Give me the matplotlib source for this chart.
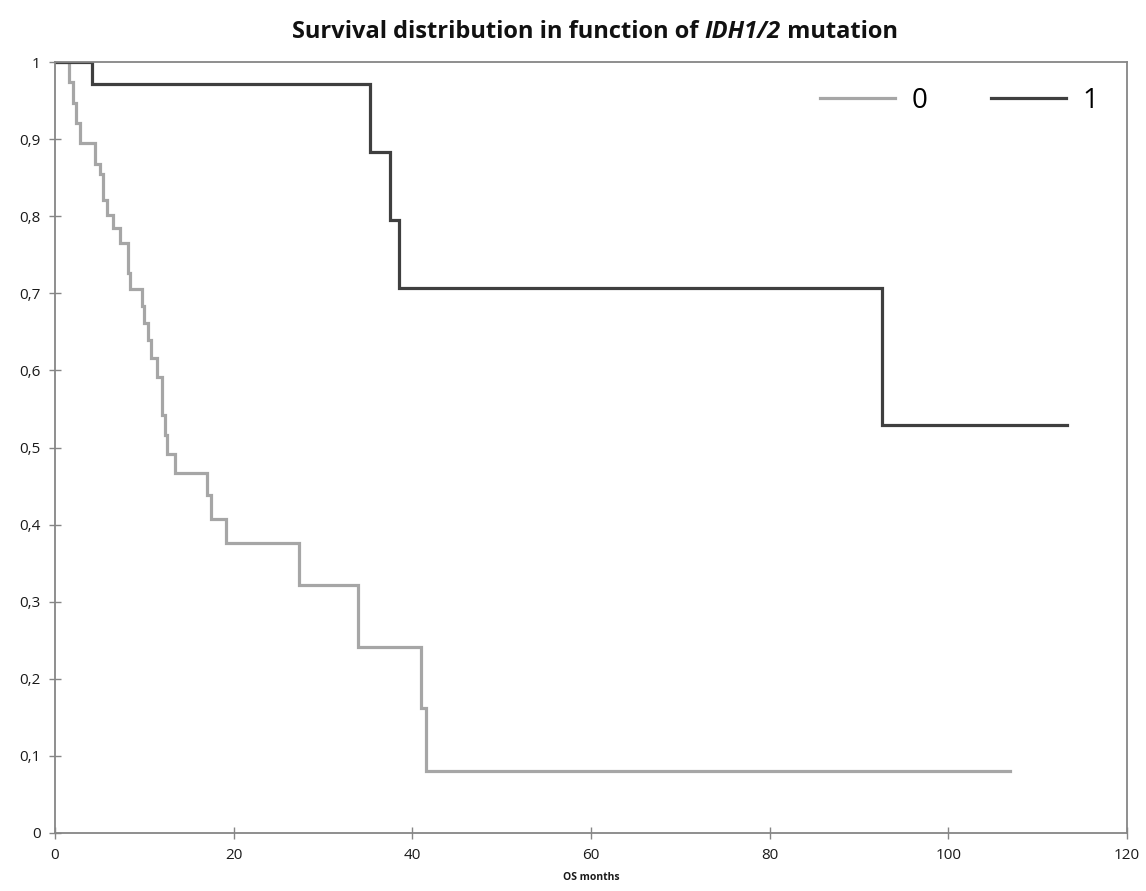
import matplotlib
matplotlib.use("Agg")
import matplotlib.pyplot as plt

# ---- data ----
times0 = [0, 1.6, 2.0, 2.4, 2.8, 4.5, 5.0, 5.4, 5.8, 6.5, 7.3, 8.2, 8.4, 9.7, 9.96,
          10.45, 10.75, 11.45, 12.0, 12.3, 12.5, 13.4, 17.0, 17.5, 19.1, 27.35,
          33.95, 40.97, 41.5, 106.9]
surv0 = [1.0, 0.974, 0.947, 0.921, 0.895, 0.868, 0.855, 0.821, 0.801, 0.785, 0.765,
         0.726, 0.705, 0.683, 0.662, 0.639, 0.616, 0.592, 0.542, 0.516, 0.492, 0.467,
         0.438, 0.407, 0.376, 0.322, 0.241, 0.162, 0.080, 0.080]
times1 = [0, 4.1, 35.3, 37.5, 38.5, 92.6, 113.3]
surv1 = [1.0, 0.971, 0.883, 0.795, 0.707, 0.529, 0.529]
series_labels = ["0", "1"]
xticks = [0, 20, 40, 60, 80, 100, 120]
yticks = [0, 0.1, 0.2, 0.3, 0.4, 0.5, 0.6, 0.7, 0.8, 0.9, 1.0]
ytick_labels = ["0", "0,1", "0,2", "0,3", "0,4", "0,5", "0,6", "0,7", "0,8", "0,9", "1"]
title_parts = ["Survival distribution in function of ", "IDH1/2", " mutation"]
xlabel = "OS months"

plt.rcParams['font.family'] = ['Open Sans', 'DejaVu Sans']

fig = plt.figure(figsize=(11.46, 8.91), dpi=100)
ax = fig.add_axes([55/1146, 1-833/891, (1127-55)/1146, (833-62)/891])

ax.plot(times0, surv0, drawstyle='steps-post', color='#a6a6a6', lw=2.3,
        label=series_labels[0], solid_joinstyle='miter')
ax.plot(times1, surv1, drawstyle='steps-post', color='#3f3f3f', lw=2.3,
        label=series_labels[1], solid_joinstyle='miter')

ax.set_xlim(0, 120)
ax.set_ylim(0, 1)
ax.set_xticks(xticks)
ax.set_xticklabels([str(v) for v in xticks])
ax.set_yticks(yticks)
ax.set_yticklabels(ytick_labels)
for s in ax.spines.values():
    s.set_color('#868686')
    s.set_linewidth(1.3)
ax.tick_params(axis='both', direction='inout', length=9, width=1.0,
               color='#868686', labelsize=11, labelcolor='#1a1a1a')
ax.tick_params(axis='x', pad=6)
ax.tick_params(axis='y', pad=6)

ax.set_xlabel(xlabel, fontsize=7.5, fontweight='bold', labelpad=7, color='#1a1a1a')

leg = ax.legend(loc='upper right', bbox_to_anchor=(1127/1146 - 0.003, 1-62/891),
                bbox_transform=fig.transFigure, ncol=2, frameon=False,
                fontsize=20, handlelength=2.7, handletextpad=0.6,
                columnspacing=2.3)

# title composed of pieces (italic gene name)
fig.canvas.draw()
renderer = fig.canvas.get_renderer()
styles = ['normal', 'italic', 'normal']
texts = []
for part, st in zip(title_parts, styles):
    texts.append(fig.text(0, 1-32/891, part, fontsize=17, fontweight='bold',
                          style=st, va='center', ha='left', color='#111111'))
widths = [t.get_window_extent(renderer).width for t in texts]
total = sum(widths)
x = 595 - total/2
for t, w in zip(texts, widths):
    t.set_position((x/1146, 1-32/891))
    x += w

fig.savefig("out.png", dpi=100)
